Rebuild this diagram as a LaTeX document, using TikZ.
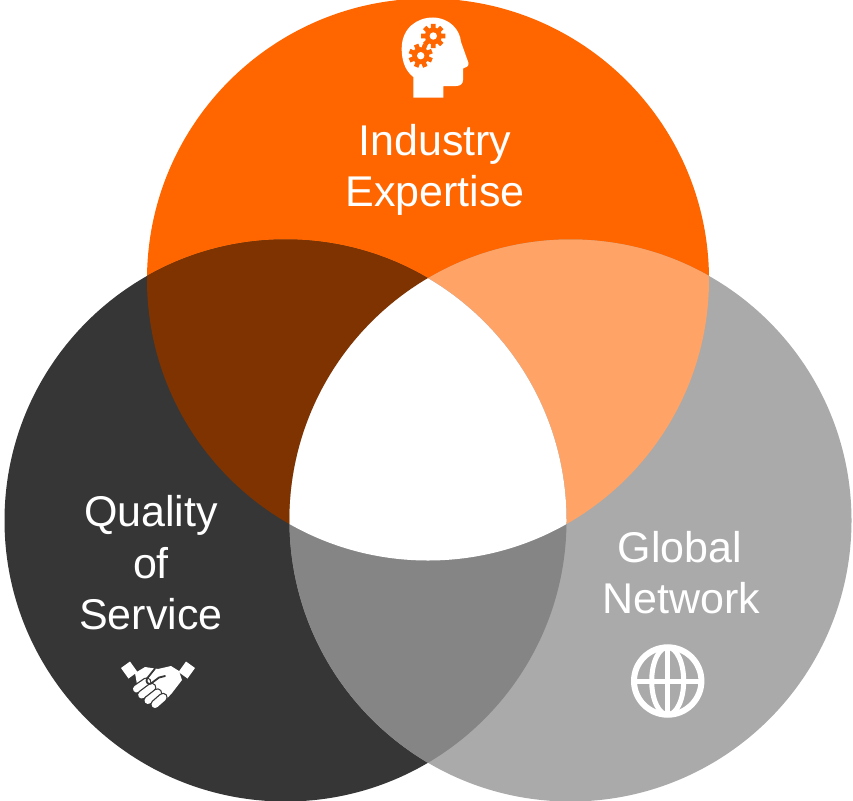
\documentclass[tikz,border=0pt]{standalone}
\usepackage{fontspec}
\setmainfont{Liberation Sans}
\definecolor{cOrange}{HTML}{FF6600}
\definecolor{cDark}{HTML}{363636}
\definecolor{cLight}{HTML}{AAAAAA}
\definecolor{cBrown}{HTML}{7F3300}
\definecolor{cPeach}{HTML}{FFA366}
\definecolor{cMid}{HTML}{858585}
\begin{document}
\begin{tikzpicture}[x=1pt,y=-1pt,
  lbl/.style={text=white,font=\fontsize{43}{50}\selectfont,anchor=base,inner sep=0pt},
  finger/.style={line cap=round}]
\useasboundingbox (0,0) rectangle (853,800);
\coordinate (T) at (428,279.5);
\coordinate (L) at (285.5,520.5);
\coordinate (R) at (570.5,520.5);
% base circles
\fill[cOrange] (T) circle[radius=281pt];
\fill[cDark] (L) circle[radius=281pt];
\fill[cLight] (R) circle[radius=281pt];
% overlaps with the top circle
\begin{scope}
  \clip (T) circle[radius=281pt];
  \fill[cBrown] (L) circle[radius=281pt];
  \fill[cPeach] (R) circle[radius=281pt];
\end{scope}
% bottom overlap and centre
\begin{scope}
  \clip (L) circle[radius=281pt];
  \fill[cMid] (R) circle[radius=281pt];
  \clip (R) circle[radius=281pt];
  \fill[white] (T) circle[radius=281pt];
\end{scope}
% labels
\node[lbl] (ind) at (435,155.7) {Industry};
\node[lbl] (exp) at (435,206) {Expertise};
\node[lbl] (qua) at (151,526.7) {Quality};
\node[lbl] (of) at (151,578.5) {of};
\node[lbl] (ser) at (151,629) {Service};
\node[lbl] (glo) at (680,562.7) {Global};
\node[lbl] (net) at (681,613) {Network};
% head icon
\fill[white] (413.3,97.7) -- (413.3,77) .. controls (404,70) and (401.5,58) .. (401.7,48)
  .. controls (402,28) and (417,17.5) .. (433,17.5) .. controls (450,18) and (460,30) .. (461,42)
  -- (468.5,63) .. controls (469,66) and (466,68) .. (463,68.5) -- (463,80)
  .. controls (463,84) and (460,86) .. (456,86) -- (443.3,86) -- (443.3,97.7) -- cycle;
\coordinate (g1) at (433.3,36);
\coordinate (g2) at (420.7,55.7);
\foreach \g/\o in {g1/0,g2/22.5} {
  \fill[cOrange] (\g) circle[radius=8.5pt];
  \foreach \a in {0,45,...,315}
    \fill[cOrange] ([shift={(\a+\o-17:8)}]\g) -- ([shift={(\a+\o-11:12.3)}]\g)
      -- ([shift={(\a+\o+11:12.3)}]\g) -- ([shift={(\a+\o+17:8)}]\g) -- cycle;
  \fill[white] (\g) circle[radius=3.7pt];
}
% handshake icon
\fill[white] (121,668) -- (130,661.5) -- (137.5,672) -- (128.5,678.5) -- cycle;
\fill[white] (195,668) -- (186,661.5) -- (178.5,672) -- (187.5,678.5) -- cycle;
\fill[white] (135,673) -- (145,667) -- (158,669) -- (171,666) -- (179,671) -- (182,680)
  -- (172,693) -- (162,704) -- (150,701) -- (138,690) -- cycle;
\foreach \ax/\ay/\bx/\by in {136.5/689/146.7/682, 141.7/695/151.7/687.5,
                             148/700.5/157.5/693, 155/704.5/163/697.5} {
  \draw[cDark,finger,line width=9.5pt] (\ax,\ay) -- (\bx,\by);
  \draw[white,finger,line width=7pt] (\ax,\ay) -- (\bx,\by);
}
\draw[cDark,line width=1.8pt,line cap=round,line join=round] (155,668.5) -- (147,678.5)
  .. controls (145.5,682) and (148,685) .. (151,683.5) -- (159,677.5) -- (165,676);
% globe icon
\coordinate (gl) at (667.7,681);
\draw[white,line width=6pt] (gl) circle[radius=33.7pt];
\draw[white,line width=5pt] (gl) ellipse[x radius=16pt,y radius=33.7pt];
\draw[white,line width=5pt] ([yshift=33.7pt]gl) -- ([yshift=-33.7pt]gl);
\draw[white,line width=5pt] ([xshift=-33.7pt]gl) -- ([xshift=33.7pt]gl);
\end{tikzpicture}
\end{document}
